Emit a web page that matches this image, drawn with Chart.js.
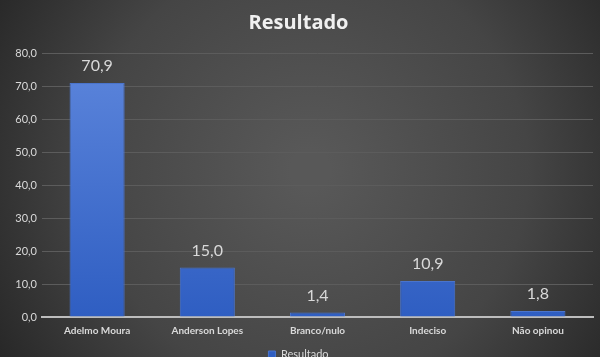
<!DOCTYPE html>
<html><head><meta charset="utf-8">
<script src="https://cdn.jsdelivr.net/npm/chart.js@4"></script>
<style>html,body{margin:0;padding:0;background:#3a3a3a;overflow:hidden}#wrap{width:600px;height:357px;position:relative}</style>
</head><body><div id="wrap"><canvas id="c" width="600" height="357"></canvas></div>
<script>
const categories = ['Adelmo Moura','Anderson Lopes','Branco/nulo','Indeciso','Não opinou'];
const values = [70.9, 15.0, 1.4, 10.9, 1.8];
const seriesName = 'Resultado';
const yTicks = [0,10,20,30,40,50,60,70,80];

const fmt = v => v.toFixed(1).replace('.', ',');

const bgPlugin = {
  id:'bg',
  beforeDraw(chart){
    const {ctx,width,height}=chart;
    ctx.save();
    const g=ctx.createRadialGradient(310,170,20,310,170,380);
    g.addColorStop(0,'#585858');
    g.addColorStop(0.55,'#454545');
    g.addColorStop(1,'#242424');
    ctx.fillStyle=g;ctx.fillRect(0,0,width,height);
    ctx.restore();
  }
};
const labelPlugin = {
  id:'dlabels',
  afterDatasetsDraw(chart){
    const {ctx}=chart;
    const meta=chart.getDatasetMeta(0);
    ctx.save();
    ctx.font='16px Lato, "Open Sans", sans-serif';
    ctx.fillStyle='#d9d9d9';
    ctx.textAlign='center';ctx.textBaseline='bottom';
    meta.data.forEach((bar,i)=>{
      ctx.fillText(fmt(values[i]), bar.x, bar.y-9);
    });
    ctx.restore();
  }
};

new Chart(document.getElementById('c'),{
  type:'bar',
  data:{labels:categories,datasets:[{
    label:seriesName,data:values,
    backgroundColor(c){
      const ca=c.chart.chartArea; if(!ca) return '#4472c4';
      const g=c.chart.ctx.createLinearGradient(0,ca.top,0,ca.bottom);
      g.addColorStop(0,'#5d86dc');g.addColorStop(1,'#2f5ec2');
      return g;
    },
    borderColor:'#4a74cc',borderWidth:1,
    categoryPercentage:1,barPercentage:0.5
  }]},
  options:{
    responsive:false,animation:false,
    layout:{padding:{left:4,right:7,top:0,bottom:-13}},
    plugins:{
      title:{display:true,text:'Resultado',color:'#f0f0f0',
        font:{family:'"Open Sans", Lato, sans-serif',size:20,weight:'bold'},
        padding:{top:11,bottom:18}},
      legend:{display:true,position:'bottom',
        labels:{color:'#d9d9d9',boxWidth:7,boxHeight:7,padding:6,
          font:{family:'Lato, "Open Sans", sans-serif',size:11}}},
      tooltip:{enabled:false}
    },
    scales:{
      x:{grid:{display:false,drawTicks:false},
        border:{display:true,color:'#bdbdbd',width:2},
        ticks:{color:'#d9d9d9',padding:8,font:{family:'Lato, "Open Sans", sans-serif',size:10,weight:'bold'}},
        afterFit(s){s.height=26;}
      },
      y:{min:0,max:80,
        afterBuildTicks(s){s.ticks=yTicks.map(v=>({value:v}));},
        grid:{color:'#5c5c5c',lineWidth:1,drawTicks:false},
        border:{display:false},
        ticks:{color:'#d9d9d9',padding:5,font:{family:'Lato, "Open Sans", sans-serif',size:11},
          callback:v=>fmt(v)},
        afterFit(s){s.width=38;}
      }
    }
  },
  plugins:[bgPlugin,labelPlugin]
});
</script></body></html>
